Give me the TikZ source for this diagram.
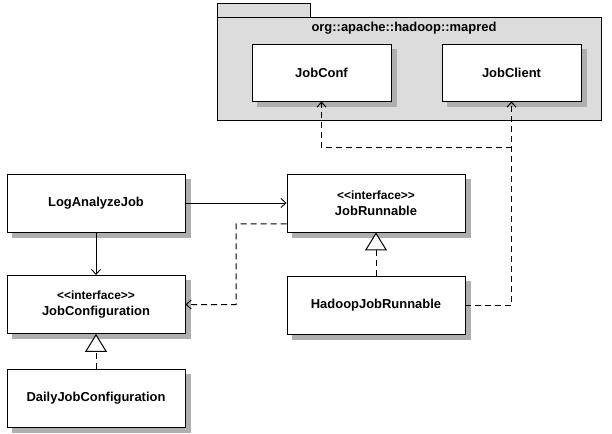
\documentclass[tikz,border=0pt]{standalone}
\usepackage{fontspec}
\setmainfont{Liberation Sans}[Ligatures=NoCommon]
\usetikzlibrary{arrows.meta}
\definecolor{shadowgray}{RGB}{175,175,175}
\definecolor{pkggray}{RGB}{220,220,220}
\newcommand{\stereotype}{{\fontsize{12}{13}\selectfont\bfseries <{}<interface>{}>}}
\begin{document}
\begin{tikzpicture}[x=1bp,y=-1bp,
  cls/.style={draw=black, line width=0.9bp, fill=white, rectangle, align=center,
    font=\fontsize{13}{15}\selectfont\bfseries, inner sep=0pt},
  wide/.style={cls, minimum width=178bp, minimum height=58bp},
  narrow/.style={cls, minimum width=139bp, minimum height=57bp},
  shadowbox/.style={fill=shadowgray, draw=none},
  assoc/.style={line width=0.9bp, -{Straight Barb[length=5bp,width=9bp]}},
  dep/.style={line width=1bp, dash pattern=on 6bp off 4bp, -{Straight Barb[length=5bp,width=9bp]}},
  real/.style={line width=1bp, dash pattern=on 6bp off 4bp, -{Triangle[open,length=18bp,width=22bp,fill=white]}},
  pkg/.style={draw=black, line width=0.9bp, fill=pkggray}
]
\fill[white] (0,0) rectangle (612,434);
\useasboundingbox (0,0) rectangle (612,434);
\draw[pkg] (217,3) rectangle (310,17);
\draw[pkg] (217,17) rectangle (601,120);
\node[font=\fontsize{13}{15}\selectfont\bfseries] (pkglabel) at (404,28) {org::apache::hadoop::mapred};
\node[narrow] (jobconf) at (321.5,72.5) {JobConf};
\node[narrow] (jobclient) at (511.5,72.5) {JobClient};
% classes
\node[wide] (log) at (96,203) {LogAnalyzeJob};
\node[wide] (conf) at (96,304.5) {\stereotype\\[1bp]JobConfiguration};
\node[wide] (daily) at (96,398) {DailyJobConfiguration};
\node[wide] (runnable) at (376,203) {\stereotype\\[1bp]JobRunnable};
\node[wide] (hadoop) at (376,305.5) {HadoopJobRunnable};
% shadows: visible L-shaped strips right of and below each box
\foreach \n in {jobconf,jobclient,log,conf,daily,runnable,hadoop}{
  \fill[shadowbox] ([xshift=0.5bp,yshift=-5bp]\n.north east) rectangle ([xshift=5.5bp,yshift=-5.5bp]\n.south east);
  \fill[shadowbox] ([xshift=5bp,yshift=-0.5bp]\n.south west) rectangle ([xshift=5.5bp,yshift=-5.5bp]\n.south east);
}
% connectors
\draw[assoc] (log.east) -- (runnable.west);
\draw[assoc] (log.south) -- (conf.north);
\coordinate (rl) at ([yshift=-21bp]runnable.west);
\coordinate (bend) at (236,224);
\draw[dep] (rl) -- (bend) |- (conf.east);
\draw[real] (hadoop.north) -- (runnable.south);
\draw[real] (daily.north) -- (conf.south);
\draw[dep] (hadoop.east) -| (jobclient.south);
\coordinate (br) at (511.5,148);
\draw[dep] (br) -| (jobconf.south);
\end{tikzpicture}
\end{document}
